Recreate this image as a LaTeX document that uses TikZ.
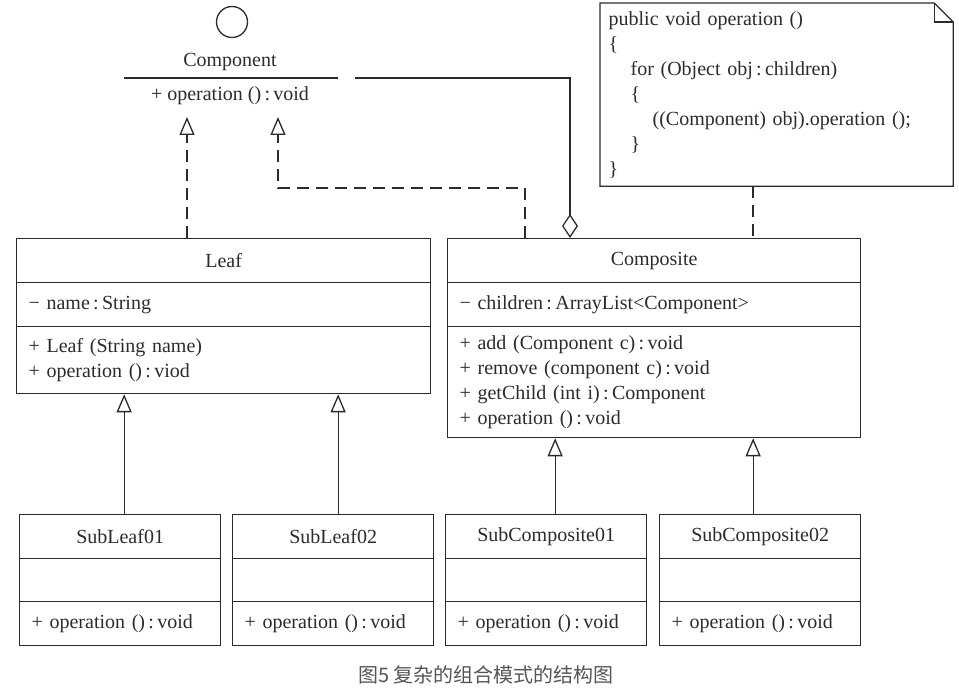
\documentclass[tikz,border=0pt]{standalone}
\usepackage{fontspec}
\setmainfont{Liberation Serif}
\newfontfamily\cjk{Noto Sans CJK SC}
\usetikzlibrary{arrows.meta}
\definecolor{linec}{HTML}{2B2B2B}
\definecolor{captiongray}{HTML}{555555}
\begin{document}
\begin{tikzpicture}[
    x=1pt, y=-1pt,
    font=\fontsize{20}{25}\selectfont,
    color=linec, line width=1.3pt,
    title/.style={draw, anchor=north west, minimum height=44, text width=#1, align=center, inner xsep=0, inner ysep=0},
    field/.style={draw, anchor=north west, text width=#1, align=left, inner xsep=12, inner ysep=0},
    note/.style={anchor=north west, minimum width=352, minimum height=182, text width=336, inner xsep=8, align=left},
    realize/.style={dash pattern=on 12pt off 7pt, -{Triangle[open, length=18pt, width=15pt]}},
    inherit/.style={-{Triangle[open, length=18pt, width=15pt]}},
    aggr/.style={-{Diamond[open, length=24pt, width=16pt]}},
    link/.style={dash pattern=on 12pt off 7pt}
]
\useasboundingbox (0,0) rectangle (959,692);

% Component interface
\node[circle, draw, minimum size=31, inner sep=0] (iface) at (232,22) {};
\node (compname) at (230,62) {Component};
\coordinate (sepl) at (124,78);
\coordinate (sepr) at (338,78);
\draw (sepl) -- (sepr);
\node (compop) at (230,96) {+ operation ()\,:\,void};

% Note
\node[note] (note) at (600,3) {public void operation ()\\\{\\\hspace*{22pt}for (Object obj\,:\,children)\\\hspace*{22pt}\{\\\hspace*{44pt}((Component) obj).operation ();\\\hspace*{22pt}\}\\\}};
\draw (note.north west) -- ([xshift=-19]note.north east) -- ([yshift=-19]note.north east) -- (note.south east) -- (note.south west) -- cycle;
\draw ([xshift=-19]note.north east) |- ([yshift=-19]note.north east);

% Leaf
\node[title=414] (leaf) at (16,238) {Leaf};
\node[field=390, minimum height=44] (leafattr) at (16,282) {− name\,:\,String};
\node[field=390, minimum height=67] (leafops) at (16,326) {+ Leaf (String name)\\+ operation ()\,:\,viod};

% Composite
\node[title=413] (comp) at (447,238) {Composite};
\node[field=389, minimum height=44] (compattr) at (447,282) {− children\,:\,ArrayList<Component>};
\node[field=389, minimum height=111] (compops) at (447,326) {+ add (Component c)\,:\,void\\+ remove (component c)\,:\,void\\+ getChild (int i)\,:\,Component\\+ operation ()\,:\,void};

% Sub classes
\node[title=201] (sl1) at (19,514) {SubLeaf01};
\node[field=177, minimum height=43] (sl1attr) at (19,558) {};
\node[field=177, minimum height=44] (sl1ops) at (19,601) {+ operation ()\,:\,void};

\node[title=201] (sl2) at (232,514) {SubLeaf02};
\node[field=177, minimum height=43] (sl2attr) at (232,558) {};
\node[field=177, minimum height=44] (sl2ops) at (232,601) {+ operation ()\,:\,void};

\node[title=201] (sc1) at (445,514) {SubComposite01};
\node[field=177, minimum height=43] (sc1attr) at (445,558) {};
\node[field=177, minimum height=44] (sc1ops) at (445,601) {+ operation ()\,:\,void};

\node[title=201] (sc2) at (659,514) {SubComposite02};
\node[field=177, minimum height=43] (sc2attr) at (659,558) {};
\node[field=177, minimum height=44] (sc2ops) at (659,601) {+ operation ()\,:\,void};

% Connectors
\coordinate (tipA) at (187,117);
\coordinate (tipB) at (278,117);
\coordinate (bendA) at (525,188);
\coordinate (aggstart) at (355,78);
\coordinate (aggcorner) at (570,78);
\coordinate (notex) at (753,0);
\draw[realize] (leaf.north -| tipA) -- (tipA);
\draw[realize] (comp.north -| bendA) -- (bendA) -| (tipB);
\draw[aggr] (aggstart) -- (aggcorner) -- (comp.north -| aggcorner);
\draw[link] (note.south -| notex) -- (comp.north -| notex);
\draw[inherit] ([xshift=4]sl1.north) -- ([xshift=4]sl1.north |- leafops.south);
\draw[inherit] ([xshift=5]sl2.north) -- ([xshift=5]sl2.north |- leafops.south);
\draw[inherit] ([xshift=9]sc1.north) -- ([xshift=9]sc1.north |- compops.south);
\draw[inherit] ([xshift=-7]sc2.north) -- ([xshift=-7]sc2.north |- compops.south);

% Caption
\node[font=\cjk\fontsize{20}{24}\selectfont, text=captiongray] (caption) at (486,675) {图5 复杂的组合模式的结构图};
\end{tikzpicture}
\end{document}
